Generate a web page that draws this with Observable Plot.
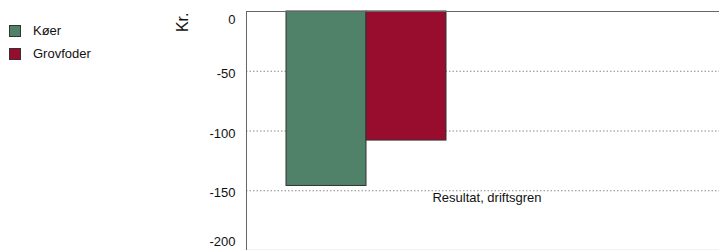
<!DOCTYPE html>
<html>
<head>
<meta charset="utf-8">
<script src="https://cdn.jsdelivr.net/npm/d3@7"></script>
<script src="https://cdn.jsdelivr.net/npm/@observablehq/plot@0.6"></script>
<style>
  html, body { margin: 0; padding: 0; background: #fff; }
  #wrap { position: relative; width: 719px; height: 250px; font-family: "Liberation Sans", Arial, sans-serif; }
  #legend { position: absolute; left: 9px; top: 19px; font-size: 13px; color: #111; }
  .item { display: flex; align-items: center; height: 23px; }
  .sw { width: 10px; height: 10px; border: 1px solid #333; margin-right: 12px; }
</style>
</head>
<body>
<div id="wrap"><div id="legend"></div></div>
<script>
const series = ["Køer", "Grovfoder"];
const values = [-146, -108];
const colors = ["#4f8268", "#980c2e"];
const yTicks = [0, -50, -100, -150, -200];
const gridTicks = [-50, -100, -150];
const category = "Resultat, driftsgren";
const yLabel = "Kr.";

const data = series.map((s, i) => ({series: s, value: values[i]}));
const fmt = d => String(d);

const chart = Plot.plot({
  width: 719,
  height: 250,
  marginLeft: 246,
  marginRight: 0,
  marginTop: 11,
  marginBottom: 0,
  style: {fontFamily: "Liberation Sans, Arial, sans-serif", fontSize: "13px", color: "#111", background: "#fff"},
  x: {domain: series, range: [286, 446], padding: 0, axis: null},
  y: {domain: [-200, 0], axis: null},
  color: {domain: series, range: colors},
  marks: [
    Plot.gridY(gridTicks, {stroke: "#888", strokeOpacity: 1, strokeDasharray: "1.5,2"}),
    Plot.ruleY([-200], {stroke: "#ccc", strokeWidth: 1.5}),
    Plot.barY(data, {x: "series", y: "value", fill: "series", stroke: "#333", strokeWidth: 1}),
    Plot.ruleY([0], {stroke: "#666", strokeWidth: 1}),
    Plot.frame({anchor: "left", stroke: "#666"}),
    Plot.axisY(yTicks.slice(0, 1), {tickSize: 0, tickPadding: 11, label: null, fontSize: 13, tickFormat: fmt, dy: 8.5}),
    Plot.axisY(yTicks.slice(1, 4), {tickSize: 0, tickPadding: 11, label: null, fontSize: 13, tickFormat: fmt, dy: 2.5}),
    Plot.axisY(yTicks.slice(4), {tickSize: 0, tickPadding: 11, label: null, fontSize: 13, tickFormat: fmt, dy: -9}),
    Plot.text([category], {y: [-150], frameAnchor: "middle", lineAnchor: "top", dy: 2, dx: 4, fontSize: 13, fill: "#111"}),
    Plot.text([yLabel], {frameAnchor: "top-left", rotate: -90, textAnchor: "end", dx: -70, dy: 1, fontSize: 16, fill: "#111"})
  ]
});
document.getElementById("wrap").appendChild(chart);

const legend = document.getElementById("legend");
series.forEach((s, i) => {
  const it = document.createElement("div");
  it.className = "item";
  const sw = document.createElement("div");
  sw.className = "sw";
  sw.style.background = colors[i];
  const t = document.createElement("span");
  t.textContent = s;
  it.appendChild(sw);
  it.appendChild(t);
  legend.appendChild(it);
});
</script>
</body>
</html>
